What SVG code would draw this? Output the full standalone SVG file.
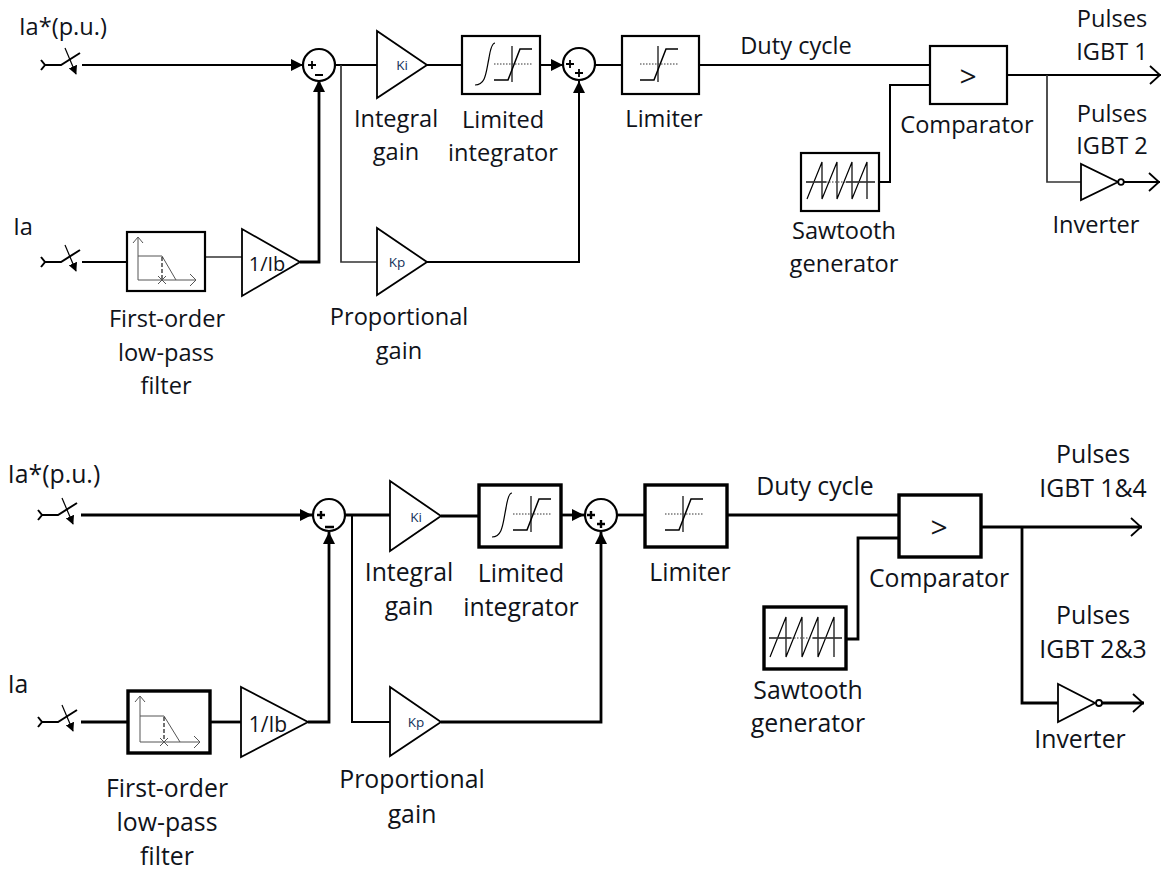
<svg xmlns="http://www.w3.org/2000/svg" width="1162" height="869" viewBox="0 0 1162 869">
<style>
text{font-family:"Open Sans","Noto Sans","DejaVu Sans",sans-serif;font-size:23.6px;fill:#10131a;text-anchor:middle;transform:translateY(.8px)}
.l{font-size:24.8px}
.small{font-size:13.5px;fill:#12305a}
.gt{font-size:30px}
.b{fill:#fff;stroke:#000;stroke-width:2.2}
.bb{fill:#fff;stroke:#000;stroke-width:3.4}
.t{fill:#fff;stroke:#000;stroke-width:1.8}
.c{fill:none;stroke:#000;stroke-width:2}
.cb{fill:none;stroke:#000;stroke-width:2.8}
.g{fill:none;stroke:#333;stroke-width:1.7}
.th{fill:none;stroke:#000;stroke-width:1.2}
.sg{fill:none;stroke:#555;stroke-width:1}
.sb{fill:none;stroke:#000;stroke-width:1.5}
.ds{fill:none;stroke:#000;stroke-width:1.1;stroke-dasharray:4 2}
.dot{fill:none;stroke:#333;stroke-width:1;stroke-dasharray:1.5 1.5}
.sign{fill:none;stroke:#000;stroke-width:1.8}
</style>
<defs>
<marker id="arr" viewBox="0 0 10 10" refX="10" refY="5" markerUnits="userSpaceOnUse" markerWidth="12" markerHeight="12" orient="auto"><path d="M0 0L10 5L0 10Z" fill="#000"/></marker>
<marker id="open" viewBox="0 0 12 20" refX="12" refY="10" markerUnits="userSpaceOnUse" markerWidth="12" markerHeight="20" orient="auto"><path d="M1 1L11 10L1 19" fill="none" stroke="#000" stroke-width="1.8"/></marker>
<marker id="smallarr" viewBox="0 0 10 10" refX="9" refY="5" markerUnits="userSpaceOnUse" markerWidth="9" markerHeight="9" orient="auto"><path d="M0 0L10 5L0 10Z" fill="#000"/></marker>
<g id="switch">
<path class="c" d="M0 -5L4 0L0 5M4 0H20L39 -12"/>
<path class="th" d="M24 -17L35 9" marker-end="url(#smallarr)"/>
</g>
<g id="lowpass">
<path class="sg" d="M11 48V6M6 11L11 5L16 11M11 48H69M63 42L69 48L63 54"/>
<path class="sg" d="M11 24H35L49 48"/>
<path class="ds" d="M35 25V48"/>
<path class="sg" d="M31 44L39 52M39 44L31 52"/>
</g>
<g id="lowpass2">
<path class="sg" d="M12 51V6M7 11L12 5L17 11M12 51H72M66 45L72 51L66 57"/>
<path class="sg" d="M12 25H36L52 51"/>
<path class="ds" d="M36 26V51"/>
<path class="sg" d="M32 47L40 55M40 47L32 55"/>
</g>
<g id="sat">
<path class="sb" d="M0 31H14L26 0H38"/>
<path class="th" d="M18 -3V33"/>
<path class="dot" d="M0 15H38"/>
</g>
<g id="saw">
<path class="th" d="M6 46L21 9V46L36 9V46L51 9V46L66 9V46"/>
<path class="g" d="M5 29H25"/><path class="dot" d="M25 29H45"/><path class="g" d="M45 29H74"/>
</g>
<g id="saw2">
<path class="th" d="M6 50L22 10V50L38 10V50L54 10V50L70 10V50"/>
<path class="g" d="M5 31H27"/><path class="dot" d="M27 31H49"/><path class="g" d="M49 31H78"/>
</g>
</defs>

<g id="connectors">
<path class="c" d="M82 65H303" marker-end="url(#arr)"/>
<path class="c" d="M82 262H127"/>
<path class="g" d="M205 257H242"/>
<path class="cb" d="M300 262H319V80" marker-end="url(#arr)"/>
<path class="c" d="M335 65H377"/>
<path class="g" d="M341 65V262H377"/>
<path class="c" d="M427 65H462"/>
<path class="c" d="M540 65H563" marker-end="url(#arr)"/>
<path class="c" d="M427 262H579V81" marker-end="url(#arr)"/>
<path class="c" d="M595 65H622"/>
<path class="c" d="M699 65H930"/>
<path class="c" d="M879 182H890V85H930"/>
<path class="c" d="M1007 75H1161" marker-end="url(#open)"/>
<path class="g" d="M1047 75V182H1081"/>
<path class="c" d="M1124 182H1160" marker-end="url(#open)"/>

<path class="cb" d="M81 515H312" marker-end="url(#arr)"/>
<path class="cb" d="M81 722H128"/>
<path class="cb" d="M210 722H241"/>
<path class="cb" d="M308 722H329V532" marker-end="url(#arr)"/>
<path class="cb" d="M345 515H390"/>
<path class="c" d="M352 515V722H390"/>
<path class="cb" d="M441 516H479"/>
<path class="cb" d="M561 515H584" marker-end="url(#arr)"/>
<path class="cb" d="M441 722H601V532" marker-end="url(#arr)"/>
<path class="cb" d="M618 515H645"/>
<path class="cb" d="M727 515H899"/>
<path class="cb" d="M846 639H858V538H899"/>
<path class="cb" d="M981 527H1142" marker-end="url(#open)"/>
<path class="cb" d="M1022 527V703H1058"/>
<path class="cb" d="M1102 703H1144" marker-end="url(#open)"/>
</g>

<g id="ia-star-1"><text x="63" y="34">Ia*(p.u.)</text><use href="#switch" x="41" y="65"/></g>
<g id="ia-1"><text x="23" y="234">Ia</text><use href="#switch" x="41" y="262"/></g>
<g id="filter-1"><rect class="b" x="127" y="232" width="78" height="59"/><use href="#lowpass" x="127" y="232"/><text x="167" y="326">First-order</text><text x="166" y="360">low-pass</text><text x="166" y="393">filter</text></g>
<g id="gain-ib-1"><path class="t" d="M242 229V296L300 262Z"/><text x="267" y="270" style="font-size:20px">1/Ib</text></g>
<g id="sum-1"><circle class="b" cx="319" cy="65" r="16"/><path class="sign" d="M308 65H316M312 61V69M315 75H323"/></g>
<g id="ki-1"><path class="t" d="M377 31V98L427 65Z"/><text class="small" x="402" y="69">Ki</text><text x="396" y="126">Integral</text><text x="396" y="159">gain</text></g>
<g id="kp-1"><path class="t" d="M377 228V295L427 262Z"/><text class="small" x="397" y="266">Kp</text><text x="399" y="324">Proportional</text><text x="399" y="358">gain</text></g>
<g id="integrator-1"><rect class="b" x="462" y="36" width="78" height="58"/><path class="th" d="M475 85C486 85 486 72 489 58C491 45 493 43 495 43"/><use href="#sat" x="494" y="49"/><text x="503" y="127">Limited</text><text x="503" y="160">integrator</text></g>
<g id="sum-2"><circle class="b" cx="579" cy="64" r="16"/><path class="sign" d="M566 64H574M570 60V68M575 73H583M579 69V77"/></g>
<g id="limiter-1"><rect class="b" x="622" y="36" width="77" height="58"/><use href="#sat" x="640" y="49"/><text x="664" y="126">Limiter</text></g>
<g id="duty-1"><text x="796" y="53">Duty cycle</text></g>
<g id="comparator-1"><rect class="b" x="930" y="46" width="77" height="58"/><text class="gt" x="968" y="86">&gt;</text><text x="967" y="132">Comparator</text></g>
<g id="sawtooth-1"><rect class="b" x="801" y="153" width="78" height="58"/><use href="#saw" x="801" y="153"/><text x="844" y="238">Sawtooth</text><text x="844" y="271">generator</text></g>
<g id="pulses-1"><text x="1112" y="26">Pulses</text><text x="1112" y="59">IGBT 1</text></g>
<g id="pulses-2"><text x="1112" y="121">Pulses</text><text x="1112" y="153">IGBT 2</text></g>
<g id="inverter-1"><path class="t" d="M1081 164V200L1118 182Z"/><circle class="t" cx="1121" cy="182" r="2.8"/><text x="1096" y="232">Inverter</text></g>

<g id="ia-star-2"><text class="l" x="54" y="482">Ia*(p.u.)</text><use href="#switch" x="38" y="515"/></g>
<g id="ia-2"><text class="l" x="18" y="692">Ia</text><use href="#switch" x="38" y="722"/></g>
<g id="filter-2"><rect class="bb" x="128" y="691" width="82" height="62"/><use href="#lowpass2" x="128" y="691"/><text class="l" x="167" y="796">First-order</text><text class="l" x="167" y="830">low-pass</text><text class="l" x="167" y="864">filter</text></g>
<g id="gain-ib-2"><path class="t" d="M241 687V757L308 722Z"/><text x="268" y="731" style="font-size:21px">1/Ib</text></g>
<g id="sum-3"><circle class="b" cx="329" cy="515" r="16"/><path class="sign" style="stroke-width:2.4" d="M317 515H325M321 511V519M325 527H334"/></g>
<g id="ki-2"><path class="t" d="M390 481V551L441 516Z"/><text class="small" x="416" y="521">Ki</text><text class="l" x="409" y="580">Integral</text><text class="l" x="409" y="614">gain</text></g>
<g id="kp-2"><path class="t" d="M390 687V756L441 722Z"/><text class="small" x="416" y="726">Kp</text><text class="l" x="412" y="787">Proportional</text><text class="l" x="412" y="822">gain</text></g>
<g id="integrator-2"><rect class="bb" x="479" y="485" width="82" height="62"/><path class="th" d="M492 537C503 537 503 522 506 508C508 495 510 493 512 493"/><use href="#sat" x="513" y="499"/><text class="l" x="521" y="581">Limited</text><text class="l" x="521" y="615">integrator</text></g>
<g id="sum-4"><circle class="b" cx="601" cy="515" r="16"/><path class="sign" style="stroke-width:2.4" d="M587 515H595M591 511V519M597 524H605M601 520V528"/></g>
<g id="limiter-2"><rect class="bb" x="645" y="485" width="82" height="62"/><use href="#sat" x="665" y="499"/><text class="l" x="690" y="580">Limiter</text></g>
<g id="duty-2"><text class="l" x="815" y="494">Duty cycle</text></g>
<g id="comparator-2"><rect class="bb" x="899" y="495" width="82" height="62"/><text class="gt" x="939" y="537">&gt;</text><text class="l" x="939" y="586">Comparator</text></g>
<g id="sawtooth-2"><rect class="bb" x="764" y="607" width="82" height="62"/><use href="#saw2" x="764" y="607"/><text class="l" x="808" y="698">Sawtooth</text><text class="l" x="808" y="731">generator</text></g>
<g id="pulses-3"><text class="l" x="1093" y="462">Pulses</text><text class="l" x="1093" y="496">IGBT 1&amp;4</text></g>
<g id="pulses-4"><text class="l" x="1093" y="623">Pulses</text><text class="l" x="1093" y="657">IGBT 2&amp;3</text></g>
<g id="inverter-2"><path class="t" d="M1058 684V722L1095 703Z"/><circle class="t" cx="1099" cy="703" r="3"/><text class="l" x="1080" y="747">Inverter</text></g>
</svg>
